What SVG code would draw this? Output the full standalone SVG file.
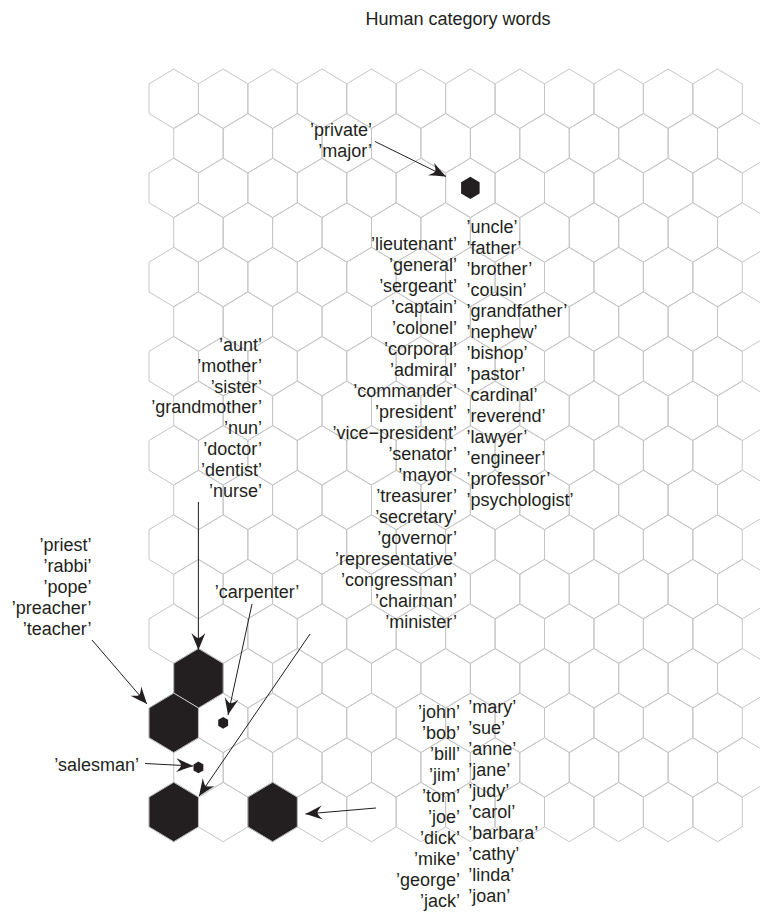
<svg xmlns="http://www.w3.org/2000/svg" xmlns:xlink="http://www.w3.org/1999/xlink" width="760" height="914" viewBox="0 0 760 914">
<style>
.grid use{fill:none}
.grid{fill:none;stroke:#c6c6c6;stroke-width:1}
.blk{fill:#231f20;stroke:#bdbdbd;stroke-width:1}
.sm{fill:#231f20;stroke:none}
text{font-family:"Liberation Sans",Arial,Helvetica,sans-serif;font-size:18px;fill:#231f20}
.r{text-anchor:end}
.c{text-anchor:middle}
.conn line{stroke:#231f20;stroke-width:1;fill:none;marker-end:url(#ah)}
</style>
<defs>
<polygon id="hx" points="0,-29.72 24.72,-14.86 24.72,14.86 0,29.72 -24.72,14.86 -24.72,-14.86"/>
<g id="row">
<use href="#hx" x="173.72"/><use href="#hx" x="223.16"/><use href="#hx" x="272.60"/><use href="#hx" x="322.04"/><use href="#hx" x="371.48"/><use href="#hx" x="420.92"/><use href="#hx" x="470.36"/><use href="#hx" x="519.80"/><use href="#hx" x="569.24"/><use href="#hx" x="618.68"/><use href="#hx" x="668.12"/><use href="#hx" x="717.56"/>
</g>
<marker id="ah" viewBox="-18 -8 19 16" refX="0" refY="0" markerWidth="19" markerHeight="16" markerUnits="userSpaceOnUse" orient="auto">
<path d="M0,0 C-5,-2 -12,-5 -17,-7 C-13,-3 -12,-1 -12,0 C-12,1 -13,3 -17,7 C-12,5 -5,2 0,0 Z" fill="#231f20"/>
</marker>
</defs>
<rect width="760" height="914" fill="#fff"/>
<text id="title" class="c" x="458" y="24.5">Human category words</text>
<g id="grid" class="grid">
<use href="#row" y="98.72"/>
<use href="#row" x="24.72" y="143.30"/>
<use href="#row" y="187.88"/>
<use href="#row" x="24.72" y="232.46"/>
<use href="#row" y="277.04"/>
<use href="#row" x="24.72" y="321.62"/>
<use href="#row" y="366.20"/>
<use href="#row" x="24.72" y="410.78"/>
<use href="#row" y="455.36"/>
<use href="#row" x="24.72" y="499.94"/>
<use href="#row" y="544.52"/>
<use href="#row" x="24.72" y="589.10"/>
<use href="#row" y="633.68"/>
<use href="#row" x="24.72" y="678.26"/>
<use href="#row" y="722.84"/>
<use href="#row" x="24.72" y="767.42"/>
<use href="#row" y="812.00"/>
</g>
<g id="node-private">
<use href="#hx" class="sm" transform="translate(470.36,187.88) scale(0.375)"/>
<text class="r" x="372" y="135.5">’private’</text>
<text class="r" x="372" y="156.5">’major’</text>
</g>
<g id="node-military">
<text class="r" x="457" y="249.8">’lieutenant’</text>
<text class="r" x="457" y="270.8">’general’</text>
<text class="r" x="457" y="291.8">’sergeant’</text>
<text class="r" x="457" y="312.8">’captain’</text>
<text class="r" x="457" y="333.8">’colonel’</text>
<text class="r" x="457" y="354.8">’corporal’</text>
<text class="r" x="457" y="375.8">’admiral’</text>
<text class="r" x="457" y="396.8">’commander’</text>
<text class="r" x="457" y="417.8">’president’</text>
<text class="r" x="457" y="438.8">’vice−president’</text>
<text class="r" x="457" y="459.8">’senator’</text>
<text class="r" x="457" y="480.8">’mayor’</text>
<text class="r" x="457" y="501.8">’treasurer’</text>
<text class="r" x="457" y="522.8">’secretary’</text>
<text class="r" x="457" y="543.8">’governor’</text>
<text class="r" x="457" y="564.8">’representative’</text>
<text class="r" x="457" y="585.8">’congressman’</text>
<text class="r" x="457" y="606.8">’chairman’</text>
<text class="r" x="457" y="627.8">’minister’</text>
</g>
<g id="node-family">
<text x="466.5" y="233.3">’uncle’</text>
<text x="466.5" y="254.3">’father’</text>
<text x="466.5" y="275.3">’brother’</text>
<text x="466.5" y="296.3">’cousin’</text>
<text x="466.5" y="317.3">’grandfather’</text>
<text x="466.5" y="338.3">’nephew’</text>
<text x="466.5" y="359.3">’bishop’</text>
<text x="466.5" y="380.3">’pastor’</text>
<text x="466.5" y="401.3">’cardinal’</text>
<text x="466.5" y="422.3">’reverend’</text>
<text x="466.5" y="443.3">’lawyer’</text>
<text x="466.5" y="464.3">’engineer’</text>
<text x="466.5" y="485.3">’professor’</text>
<text x="466.5" y="506.3">’psychologist’</text>
</g>
<g id="node-female">
<use href="#hx" class="blk" x="198.44" y="678.26"/>
<text class="r" x="262" y="350.7">’aunt’</text>
<text class="r" x="262" y="371.6">’mother’</text>
<text class="r" x="262" y="392.5">’sister’</text>
<text class="r" x="262" y="413.4">’grandmother’</text>
<text class="r" x="262" y="434.3">’nun’</text>
<text class="r" x="262" y="455.2">’doctor’</text>
<text class="r" x="262" y="476.1">’dentist’</text>
<text class="r" x="262" y="497.0">’nurse’</text>
</g>
<g id="node-clergy">
<use href="#hx" class="blk" x="173.72" y="722.84"/>
<text class="r" x="91.5" y="550.7">’priest’</text>
<text class="r" x="91.5" y="571.7">’rabbi’</text>
<text class="r" x="91.5" y="592.7">’pope’</text>
<text class="r" x="91.5" y="613.7">’preacher’</text>
<text class="r" x="91.5" y="634.7">’teacher’</text>
</g>
<g id="node-carpenter">
<use href="#hx" class="sm" transform="translate(223.16,722.84) scale(0.2)"/>
<text class="c" x="257" y="598.3">’carpenter’</text>
</g>
<g id="node-salesman">
<use href="#hx" class="sm" transform="translate(198.44,767.42) scale(0.2)"/>
<text class="r" x="139" y="771">’salesman’</text>
</g>
<g id="node-misc">
<use href="#hx" class="blk" x="173.72" y="812.00"/>
</g>
<g id="node-names">
<use href="#hx" class="blk" x="272.60" y="812.00"/>
<text class="r" x="460" y="718.3">’john’</text>
<text class="r" x="460" y="739.3">’bob’</text>
<text class="r" x="460" y="760.3">’bill’</text>
<text class="r" x="460" y="781.3">’jim’</text>
<text class="r" x="460" y="802.3">’tom’</text>
<text class="r" x="460" y="823.3">’joe’</text>
<text class="r" x="460" y="844.3">’dick’</text>
<text class="r" x="460" y="865.3">’mike’</text>
<text class="r" x="460" y="886.3">’george’</text>
<text class="r" x="460" y="907.3">’jack’</text>
<text x="468.3" y="713">’mary’</text>
<text x="468.3" y="734">’sue’</text>
<text x="468.3" y="755">’anne’</text>
<text x="468.3" y="776">’jane’</text>
<text x="468.3" y="797">’judy’</text>
<text x="468.3" y="818">’carol’</text>
<text x="468.3" y="839">’barbara’</text>
<text x="468.3" y="860">’cathy’</text>
<text x="468.3" y="881">’linda’</text>
<text x="468.3" y="902">’joan’</text>
</g>
<g id="connectors" class="conn">
<line x1="375" y1="141.5" x2="446" y2="176.5"/>
<line x1="198.4" y1="502" x2="198.4" y2="650"/>
<line x1="92" y1="640" x2="147" y2="704"/>
<line x1="252" y1="604" x2="228" y2="715"/>
<line x1="310" y1="634" x2="199" y2="796"/>
<line x1="145" y1="763.5" x2="193" y2="766"/>
<line x1="376" y1="808" x2="305.5" y2="814"/>
</g>
</svg>
